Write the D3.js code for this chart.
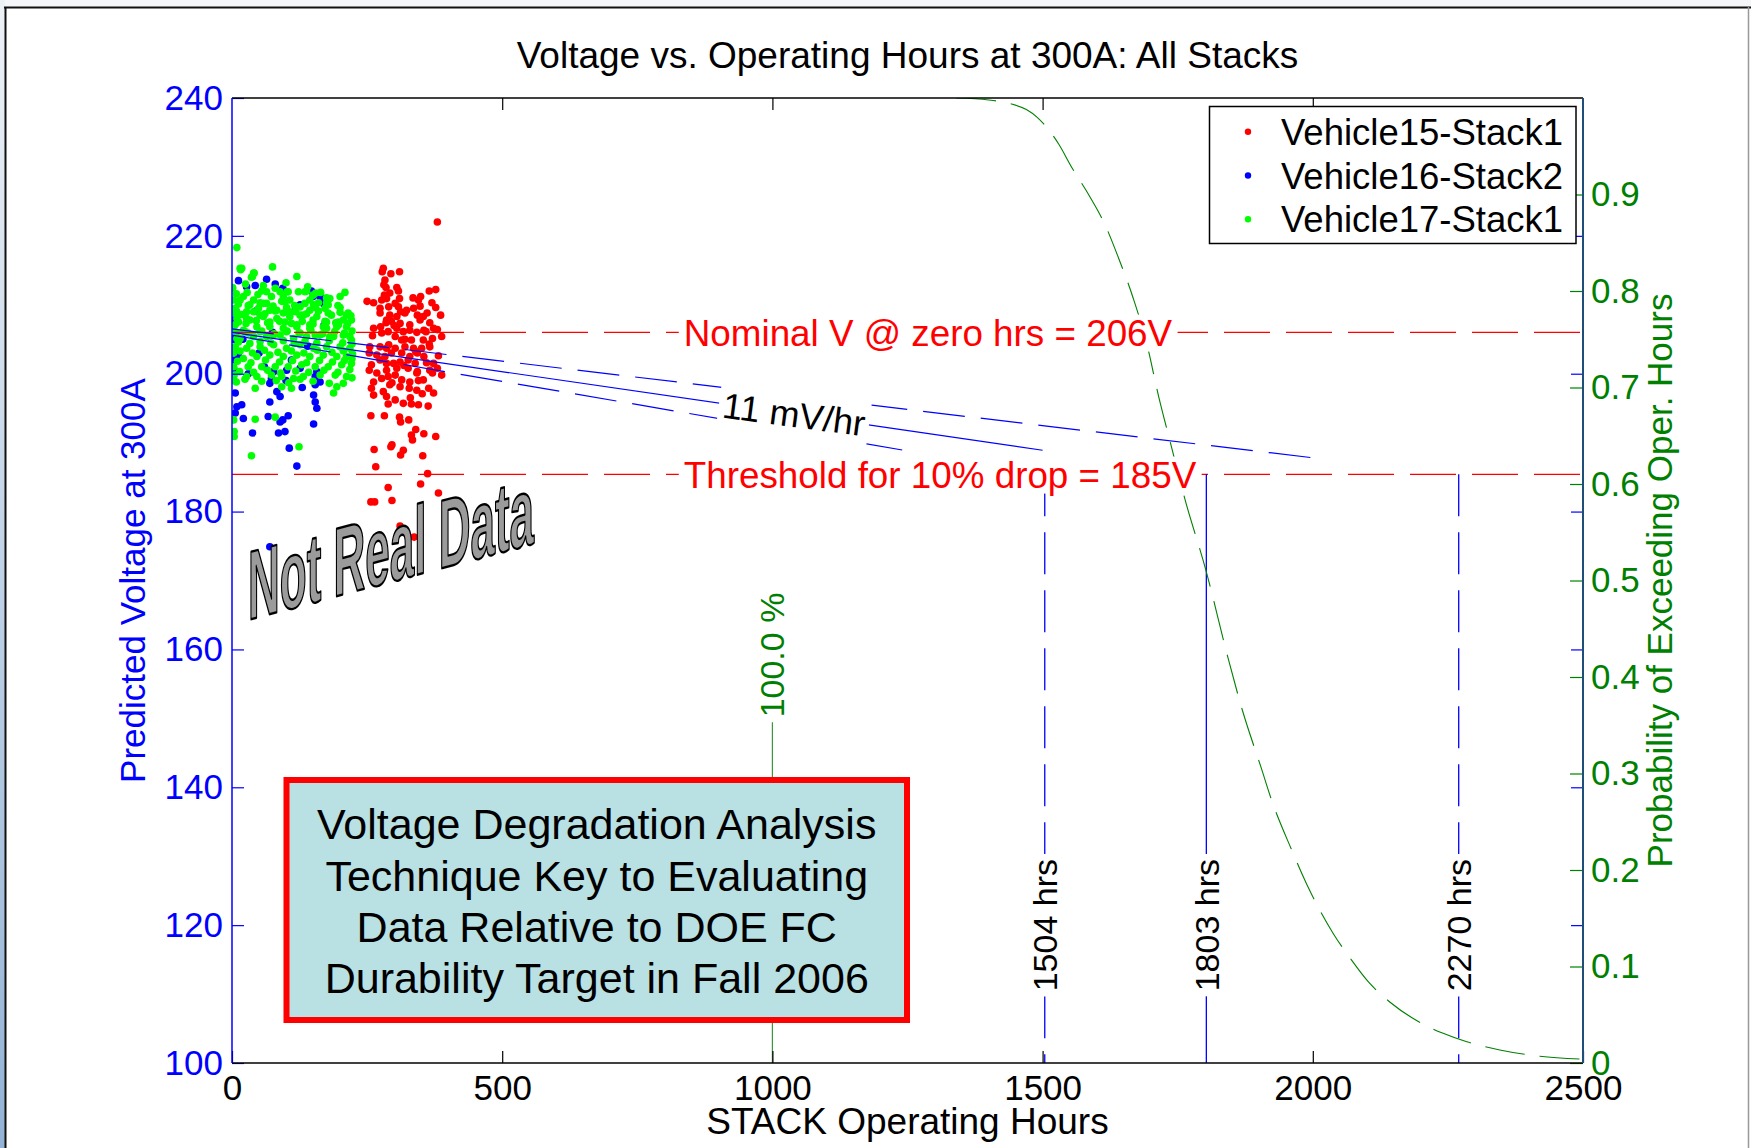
<!DOCTYPE html>
<html><head><meta charset="utf-8">
<script src="https://cdn.jsdelivr.net/npm/d3@7"></script>
<style>
html,body{margin:0;padding:0;background:#fff;}
svg{display:block;}
text{font-family:"Liberation Sans",Arial,Helvetica,sans-serif;}
</style></head><body>
<svg id="chart" width="1751" height="1148"></svg>
<script>
// ---------------- DATA ----------------
const xTicks = [0, 500, 1000, 1500, 2000, 2500];
const yTicks = [100, 120, 140, 160, 180, 200, 220, 240];
const pTicks = [0, 0.1, 0.2, 0.3, 0.4, 0.5, 0.6, 0.7, 0.8, 0.9];
const seriesNames = ["Vehicle15-Stack1", "Vehicle16-Stack2", "Vehicle17-Stack1"];
const seriesColors = ["#ff0000", "#0000ff", "#00ff00"];

// [operating hours, predicted volts]
const v15Stack1 = [
[280,215.3],[278,214.8],[294,214.5],[310,214.8],[283,213.6],[281,212.9],[285,212.5],[305,212.5],[308,212.0],[292,211.7],
[282,211.4],[277,210.7],[286,210.9],[310,210.9],[365,212.0],[377,212.2],[349,211.2],[345,210.7],[250,210.5],[262,210.3],
[274,209.5],[290,209.7],[302,210.2],[308,209.7],[323,209.2],[336,209.5],[348,209.8],[370,210.3],[377,209.6],[386,208.5],
[274,208.8],[292,208.5],[305,208.3],[320,208.8],[343,208.5],[354,208.3],[361,208.8],[262,206.6],[286,207.8],[295,207.6],
[311,207.3],[329,207.1],[348,207.8],[366,207.4],[373,206.6],[277,205.9],[289,206.1],[305,206.6],[317,206.1],[329,206.3],
[342,206.0],[359,206.1],[388,205.4],[302,205.4],[314,204.9],[332,204.9],[354,204.9],[371,205.1],[274,203.9],[255,203.9],
[286,203.7],[302,203.7],[320,203.9],[336,203.7],[351,203.7],[366,203.9],[254,203.0],[268,202.7],[283,202.5],[295,203.0],
[314,203.0],[329,202.5],[343,203.0],[355,202.5],[382,202.6],[258,201.3],[274,202.0],[286,201.5],[299,201.5],[311,201.7],
[326,202.0],[339,201.5],[360,201.6],[373,201.5],[254,200.5],[268,200.1],[286,200.5],[305,200.8],[326,200.8],[343,200.3],
[366,200.5],[380,200.8],[388,199.8],[262,198.8],[277,199.3],[289,199.6],[302,199.8],[314,199.1],[329,198.8],[342,200.1],
[354,199.1],[371,200.1],[258,197.9],[280,197.4],[292,198.4],[311,198.1],[328,197.9],[342,197.6],[364,197.9],[373,197.2],
[262,196.9],[286,196.7],[302,196.2],[317,195.7],[332,195.6],[345,195.5],[363,195.3],[289,195.6],[257,193.9],[282,193.9],
[310,193.7],[312,193.0],[327,193.3],[340,191.9],[355,191.3],[377,190.9],[332,191.1],[334,190.4],[296,189.7],[294,189.4],
[263,189.0],[317,188.9],[312,188.2],[353,188.1],[266,186.5],[362,185.5],[289,183.5],[349,184.0],[382,182.7],[257,181.4],
[264,181.4],[296,181.6],[311,177.9],[337,176.3],[380,222.0],
[300,207.0],[320,205.0],[340,203.2],[355,206.3],[290,204.2],[275,206.8],[312,209.0],[335,211.0],[365,204.3],[380,206.4],
[260,205.5],[345,199.0],[318,201.2],[296,198.7],[330,196.5],[352,197.1],[285,207.4]
];
const v16Stack2 = [
[12,213.5],[27,212.6],[43,212.8],[64,213.7],[80,213.0],[94,212.4],[147,212.0],[165,210.9],[7,209.2],[0.5,207.8],
[3,200.8],[6,197.2],[9,195.2],[18,195.5],[21,193.5],[6,194.3],[38,191.4],[70,195.9],[83,197.4],[89,196.7],
[86,191.4],[98,191.6],[106,189.2],[120,186.6],[67,193.8],[89,193.0],[94,193.3],[104,193.9],[151,192.7],[157,195.0],
[154,195.9],[151,196.9],[154,198.4],[154,199.6],[163,198.8],[157,200.3],[70,198.6],[73,199.3],[77,200.3],[101,200.5],
[126,200.8],[12,202.5],[6,203.1],[70,174.9],[151,173.7],
[150,211.2],[163,211.2],[169,210.2],[44,209.1],[6,208.9],[126,210.0],[117,209.1],
[20,205.0],[50,203.0],[75,206.0],[110,202.0],[140,204.0],[170,207.0],[30,200.0],[60,201.0],[100,199.0],[130,198.0],
[160,200.0],[2,205.0],[2,202.0]
];
const v17Stack1 = [
[9,218.3],[16,215.1],[18,215.3],[40,214.6],[36,214.0],[75,215.5],[120,214.1],[1,212.4],[55,212.0],[73,211.2],
[89,211.9],[104,211.9],[123,211.9],[135,211.9],[164,211.8],[209,211.8],[181,210.9],[3,210.7],[21,211.2],[40,210.7],
[64,210.2],[92,210.5],[107,210.7],[144,210.7],[6,209.5],[27,209.0],[49,209.5],[70,209.2],[101,209.6],[126,209.7],
[151,210.0],[172,209.5],[200,209.6],[215,208.8],[9,208.0],[33,207.8],[58,208.3],[83,208.0],[107,208.3],[132,208.5],
[157,208.3],[184,208.5],[206,207.8],[221,207.8],[3,206.8],[21,206.3],[46,206.8],[70,206.8],[95,206.6],[120,206.8],
[144,207.1],[169,206.8],[194,206.8],[212,206.8],[15,205.1],[40,205.4],[64,205.4],[89,205.6],[114,205.1],[138,205.4],
[163,205.6],[188,205.4],[218,205.4],[221,204.9],[6,203.9],[27,203.7],[52,203.9],[77,204.2],[101,203.7],[126,204.2],
[151,203.7],[175,203.9],[200,203.9],[218,203.7],[3,203.0],[21,202.2],[46,202.5],[70,202.7],[95,202.5],[120,202.7],
[144,202.5],[169,202.7],[194,202.5],[212,202.5],[3,201.0],[30,201.0],[55,201.0],[80,201.0],[104,201.0],[129,201.3],
[154,201.0],[178,201.0],[203,201.3],[221,201.5],[4,199.8],[3,199.1],[27,199.6],[46,199.6],[73,199.8],[92,199.6],
[114,199.3],[132,199.6],[163,199.8],[191,199.8],[212,199.6],[24,199.2],[92,198.1],[110,197.9],[194,198.1],[188,197.2],
[206,198.6],[43,197.9],[3,193.3],[4,191.6],[4,190.9],[43,193.4],[36,188.1],[124,189.4],[80,193.7],[126,199.2],
[15,215.3],[38,214.1],[41,214.6],[1,212.5],[64,211.9],[80,212.4],[102,211.9],[138,212.0],[155,211.7],[178,210.0],
[160,210.3],[144,209.2],[212,208.5],[197,207.5],[175,207.5],[150,207.8],[126,208.5],[107,209.0],[83,209.2],[58,210.2],
[33,210.0],[15,210.7],[9,208.9],[27,208.0],[52,208.5],[70,207.5],[98,207.5],[120,207.1],[144,206.6],[175,206.6],
[197,207.1],[206,205.6],[181,205.4],[154,205.6],[126,205.9],[101,206.1],[77,205.6],[52,206.1],[24,206.1],[6,207.1],
[9,205.1],
[12,210.1],[30,209.9],[52,210.3],[76,209.8],[98,210.4],[116,209.9],[135,210.2],[154,209.6],[175,210.3],[196,209.9],
[5,208.9],[18,208.6],[40,209.0],[61,208.7],[80,209.1],[95,208.8],[118,209.0],[138,208.7],[160,209.1],[178,208.8],
[200,208.9],[220,208.4],[12,207.5],[26,207.3],[45,207.7],[66,207.4],[88,207.6],[110,207.3],[130,207.6],[150,207.2],
[172,207.6],[192,207.4],[214,207.3],[8,206.0],[30,205.9],[55,206.2],[78,205.8],[102,206.2],[124,205.9],[146,206.3],
[168,205.8],[190,206.1],[208,205.9],[222,206.2],[12,204.6],[33,204.4],[52,204.7],[72,204.5],[95,204.8],[115,204.4],
[135,204.7],[157,204.5],[180,204.8],[205,204.5],[222,204.3],[15,203.3],[38,203.0],[60,203.4],[85,203.1],[110,203.3],
[133,203.0],[158,203.4],[185,203.1],[206,203.3],[223,202.9],[10,201.8],[35,201.6],[62,202.0],[88,201.7],[112,201.9],
[138,201.6],[162,201.9],[186,201.7],[208,201.9],[222,202.2],[14,200.3],[40,200.2],[66,200.5],[90,200.1],[118,200.4],
[142,200.2],[170,200.5],[196,200.2],[218,200.6],[8,198.8],[55,198.9],[82,199.0],[105,198.7],[150,198.9],[180,198.6],
[222,199.4],[8,211.6],[28,211.8],[48,211.5],[95,211.2],[150,211.4],[175,211.0],[200,211.2],[58,212.8],[100,213.2],
[140,212.6],[25,213.0]
];

// Degradation fit lines (hours, volts): lower bound, centre fit, upper bound
const fitLower = [[0, 205.6], [1250, 188.8]];
const fitCenter = [[0, 206.0], [1500, 188.9]];
const fitUpper = [[0, 206.5], [2000, 187.8]];
const fitLabel = "11 mV/hr";
const fitLabelHours = 1040;

const nominalV = 206;
const nominalLabel = "Nominal V @ zero hrs = 206V";
const thresholdV = 185.4;
const thresholdLabel = "Threshold for 10% drop = 185V";
const refLabelHours = 836;

const crossHours = [1504, 1803, 2270];
const crossLabels = ["1504 hrs", "1803 hrs", "2270 hrs"];
const crossDashed = [true, false, true];
const crossLabelV = 120;

// Probability of exceeding operating hours (right axis)
const survHours = [1340,1400,1441,1470,1490,1510,1530,1554,1585,1616,1640,1668,1693,1715,1735,1764,1802,1843,1870,1905,1924,1960,1989,2038,2070,2103,2143,2189,2240,2285,2346,2420,2500];
const survProb  = [1.0,0.998,0.994,0.988,0.980,0.968,0.952,0.928,0.9,0.868,0.835,0.792,0.745,0.69,0.646,0.583,0.511,0.42,0.365,0.305,0.272,0.222,0.185,0.134,0.108,0.084,0.063,0.045,0.031,0.022,0.0135,0.007,0.004];

const targetHours = 1000;
const targetLineTop = 0.353;
const targetLabel = "100.0 %";

const boxLines = ["Voltage Degradation Analysis", "Technique Key to Evaluating", "Data Relative to DOE FC", "Durability Target in Fall 2006"];
const stampText = "Not Real Data";
const titleText = "Voltage vs. Operating Hours at 300A: All Stacks";
const xLabel = "STACK Operating Hours";
const yLabel = "Predicted Voltage at 300A";
const pLabel = "Probability of Exceeding Oper. Hours";

// ---------------- DRAWING ----------------
const W = 1751, H = 1148;
const L = 232, R = 1583, T = 98, B = 1063;
const svg = d3.select("#chart");
const x = d3.scaleLinear().domain([0, 2500]).range([L, R]);
const y = d3.scaleLinear().domain([100, 240]).range([B, T]);
const p = d3.scaleLinear().domain([0, 1]).range([B, T]);

// window frame
const defs = svg.append("defs");
const lg = defs.append("linearGradient").attr("id", "lg").attr("x1", 0).attr("y1", 0).attr("x2", 0).attr("y2", 1);
lg.append("stop").attr("offset", "0%").attr("stop-color", "#eef2f7");
lg.append("stop").attr("offset", "100%").attr("stop-color", "#93b3d6");
defs.append("clipPath").attr("id", "clip").append("rect").attr("x", L).attr("y", T).attr("width", R - L).attr("height", B - T);
svg.append("rect").attr("x", 0).attr("y", 0).attr("width", W).attr("height", 7).attr("fill", "#f4f6f9");
svg.append("rect").attr("x", 0).attr("y", 0).attr("width", 5).attr("height", H).attr("fill", "url(#lg)");
svg.append("line").attr("x1", 4).attr("x2", W).attr("y1", 7.5).attr("y2", 7.5).attr("stroke", "#111").attr("stroke-width", 2);
svg.append("line").attr("x1", 5.5).attr("x2", 5.5).attr("y1", 7).attr("y2", H).attr("stroke", "#111").attr("stroke-width", 2);
svg.append("line").attr("x1", 1748.5).attr("x2", 1748.5).attr("y1", 7).attr("y2", H).attr("stroke", "#999").attr("stroke-width", 1.5);

const plot = svg.append("g").attr("clip-path", "url(#clip)");

// scatter
[v15Stack1, v16Stack2, v17Stack1].forEach((arr, i) => {
  plot.append("g").selectAll("circle").data(arr).enter().append("circle")
    .attr("cx", d => x(d[0])).attr("cy", d => y(d[1])).attr("r", 3.8)
    .attr("fill", seriesColors[i]);
});

// reference lines
[nominalV, thresholdV].forEach(v => {
  plot.append("line").attr("x1", x(0)).attr("x2", x(2500)).attr("y1", y(v)).attr("y2", y(v))
    .attr("stroke", "#ff0000").attr("stroke-width", 1.2).attr("stroke-dasharray", "46,16");
});

// fit lines
const line = d3.line().x(d => x(d[0])).y(d => y(d[1]));
[[fitLower, true], [fitCenter, false], [fitUpper, true]].forEach(([pts, dashed]) => {
  plot.append("path").attr("d", line(pts)).attr("fill", "none").attr("stroke", "#0000ff")
    .attr("stroke-width", 1.2).attr("stroke-dasharray", dashed ? "42,16" : null);
});

// vertical crossing lines
crossHours.forEach((h, i) => {
  plot.append("line").attr("x1", x(h)).attr("x2", x(h)).attr("y1", y(thresholdV)).attr("y2", y(100))
    .attr("stroke", "#0000ff").attr("stroke-width", 1.3).attr("stroke-dasharray", crossDashed[i] ? "42,16" : null);
});

// target line at 1000 hrs
plot.append("line").attr("x1", x(targetHours)).attr("x2", x(targetHours)).attr("y1", p(0)).attr("y2", p(targetLineTop))
  .attr("stroke", "#3a9a3a").attr("stroke-width", 1.2);

function bgText(parent, transform, txt, size, color, anchor, padX, padY) {
  const g = parent.append("g").attr("transform", transform);
  const r = g.append("rect").attr("fill", "#fff");
  const t = g.append("text").attr("font-size", size).attr("fill", color)
    .attr("text-anchor", anchor).attr("dy", "0.36em").text(txt);
  const bb = t.node().getBBox();
  r.attr("x", bb.x - padX).attr("y", bb.y - padY).attr("width", bb.width + 2 * padX).attr("height", bb.height + 2 * padY);
  return g;
}

const ann = svg.append("g");
bgText(ann, `translate(${x(refLabelHours)},${y(nominalV)})`, nominalLabel, 36.8, "#ff0000", "start", 5, -2);
bgText(ann, `translate(${x(refLabelHours)},${y(thresholdV)})`, thresholdLabel, 36.8, "#ff0000", "start", 5, -2);
{
  const cv = fitCenter[0][1] + (fitCenter[1][1] - fitCenter[0][1]) * (fitLabelHours - fitCenter[0][0]) / (fitCenter[1][0] - fitCenter[0][0]);
  bgText(ann, `translate(${x(fitLabelHours)},${y(cv)}) rotate(7.5)`, fitLabel, 36, "#000", "middle", 4, 1);
}
crossHours.forEach((h, i) => {
  bgText(ann, `translate(${x(h)},${y(crossLabelV)}) rotate(-90)`, crossLabels[i], 34, "#000", "middle", 5, 0);
});
ann.append("text").attr("transform", `translate(${x(targetHours) + 12},${p(targetLineTop) - 5}) rotate(-90)`)
  .attr("font-size", 34).attr("fill", "#008000").attr("text-anchor", "start").text(targetLabel);

// survival curve
const sline = d3.line().x(d => x(d[0])).y(d => p(d[1])).curve(d3.curveMonotoneX);
plot.append("path").attr("d", sline(survHours.map((h, i) => [h, survProb[i]])))
  .attr("fill", "none").attr("stroke", "#008000").attr("stroke-width", 1.1).attr("stroke-dasharray", "40,15");

// axes
const fs = 35;
const gx = svg.append("g").attr("transform", `translate(0,${B})`)
  .call(d3.axisBottom(x).tickValues(xTicks).tickSize(-12).tickSizeOuter(0).tickPadding(12).tickFormat(d3.format("d")));
gx.select(".domain").remove();
gx.selectAll("line").attr("stroke", "#000").attr("stroke-width", 1.2);
gx.selectAll("text").attr("font-size", fs).attr("fill", "#000").attr("font-family", null);

const gxt = svg.append("g").attr("transform", `translate(0,${T})`)
  .call(d3.axisTop(x).tickValues(xTicks.slice(1, -1)).tickSize(-12).tickSizeOuter(0).tickFormat(""));
gxt.select(".domain").remove();
gxt.selectAll("line").attr("stroke", "#000").attr("stroke-width", 1.2);

const gy = svg.append("g").attr("transform", `translate(${L},0)`)
  .call(d3.axisLeft(y).tickValues(yTicks).tickSize(-12).tickSizeOuter(0).tickPadding(9).tickFormat(d3.format("d")));
gy.select(".domain").remove();
gy.selectAll("line").attr("stroke", "#0000ff").attr("stroke-width", 1.2);
gy.selectAll("text").attr("font-size", fs).attr("fill", "#0000ff").attr("font-family", null);

const gyr = svg.append("g").attr("transform", `translate(${R},0)`)
  .call(d3.axisRight(y).tickValues(yTicks.slice(1, -1)).tickSize(-12).tickSizeOuter(0).tickFormat(""));
gyr.select(".domain").remove();
gyr.selectAll("line").attr("stroke", "#0000ff").attr("stroke-width", 1.2);

const gp = svg.append("g").attr("transform", `translate(${R},0)`)
  .call(d3.axisRight(p).tickValues(pTicks).tickSize(-13).tickSizeOuter(0).tickPadding(8)
    .tickFormat(d => d === 0 ? "0" : d3.format(".1f")(d)));
gp.select(".domain").remove();
gp.selectAll("line").attr("stroke", "#008000").attr("stroke-width", 1.2);
gp.selectAll("text").attr("font-size", fs).attr("fill", "#008000").attr("font-family", null);

// box lines
svg.append("line").attr("x1", L).attr("x2", R).attr("y1", T).attr("y2", T).attr("stroke", "#000").attr("stroke-width", 1.5);
svg.append("line").attr("x1", L).attr("x2", R).attr("y1", B).attr("y2", B).attr("stroke", "#000").attr("stroke-width", 1.5);
svg.append("line").attr("x1", L).attr("x2", L).attr("y1", T).attr("y2", B).attr("stroke", "#0000ff").attr("stroke-width", 1.5);
svg.append("line").attr("x1", R).attr("x2", R).attr("y1", T).attr("y2", B).attr("stroke", "#1f4e79").attr("stroke-width", 2);

// titles
svg.append("text").attr("x", (L + R) / 2).attr("y", 68).attr("text-anchor", "middle").attr("font-size", 37).attr("fill", "#000").text(titleText);
svg.append("text").attr("x", (L + R) / 2).attr("y", 1134).attr("text-anchor", "middle").attr("font-size", 37).attr("fill", "#000").text(xLabel);
svg.append("text").attr("transform", `translate(145,${(T + B) / 2}) rotate(-90)`).attr("text-anchor", "middle").attr("font-size", 35).attr("fill", "#0000ff").text(yLabel);
svg.append("text").attr("transform", `translate(1672,${(T + B) / 2}) rotate(-90)`).attr("text-anchor", "middle").attr("font-size", 35).attr("fill", "#008000").text(pLabel);

// legend
const leg = svg.append("g");
leg.append("rect").attr("x", 1209.5).attr("y", 106.5).attr("width", 366.5).attr("height", 137)
  .attr("fill", "#fff").attr("stroke", "#000").attr("stroke-width", 1.5);
seriesNames.forEach((n, i) => {
  const cy = 131.7 + i * 43.8;
  leg.append("circle").attr("cx", 1248).attr("cy", cy).attr("r", 3.2).attr("fill", seriesColors[i]);
  leg.append("text").attr("x", 1281).attr("y", cy).attr("dy", "0.36em").attr("font-size", 36.5).attr("fill", "#000").text(n);
});

// text box overlay
const bx = 286.5, by = 780, bw = 620.5, bh = 240;
svg.append("rect").attr("x", bx).attr("y", by).attr("width", bw).attr("height", bh)
  .attr("fill", "#b9e0e3").attr("stroke", "#ff0000").attr("stroke-width", 6);
boxLines.forEach((t, i) => {
  svg.append("text").attr("x", bx + bw / 2).attr("y", 824 + i * 51.3).attr("dy", "0.36em")
    .attr("text-anchor", "middle").attr("font-size", 43).attr("fill", "#000").text(t);
});

// stamp
svg.append("text").attr("transform", "translate(248,620) skewY(-15)")
  .attr("font-size", 98).attr("font-weight", "bold").attr("textLength", 286).attr("lengthAdjust", "spacingAndGlyphs")
  .attr("fill", "#9b9b9b").attr("stroke", "#000").attr("stroke-width", 2.4).attr("stroke-linejoin", "round")
  .text(stampText);
</script>
</body></html>
